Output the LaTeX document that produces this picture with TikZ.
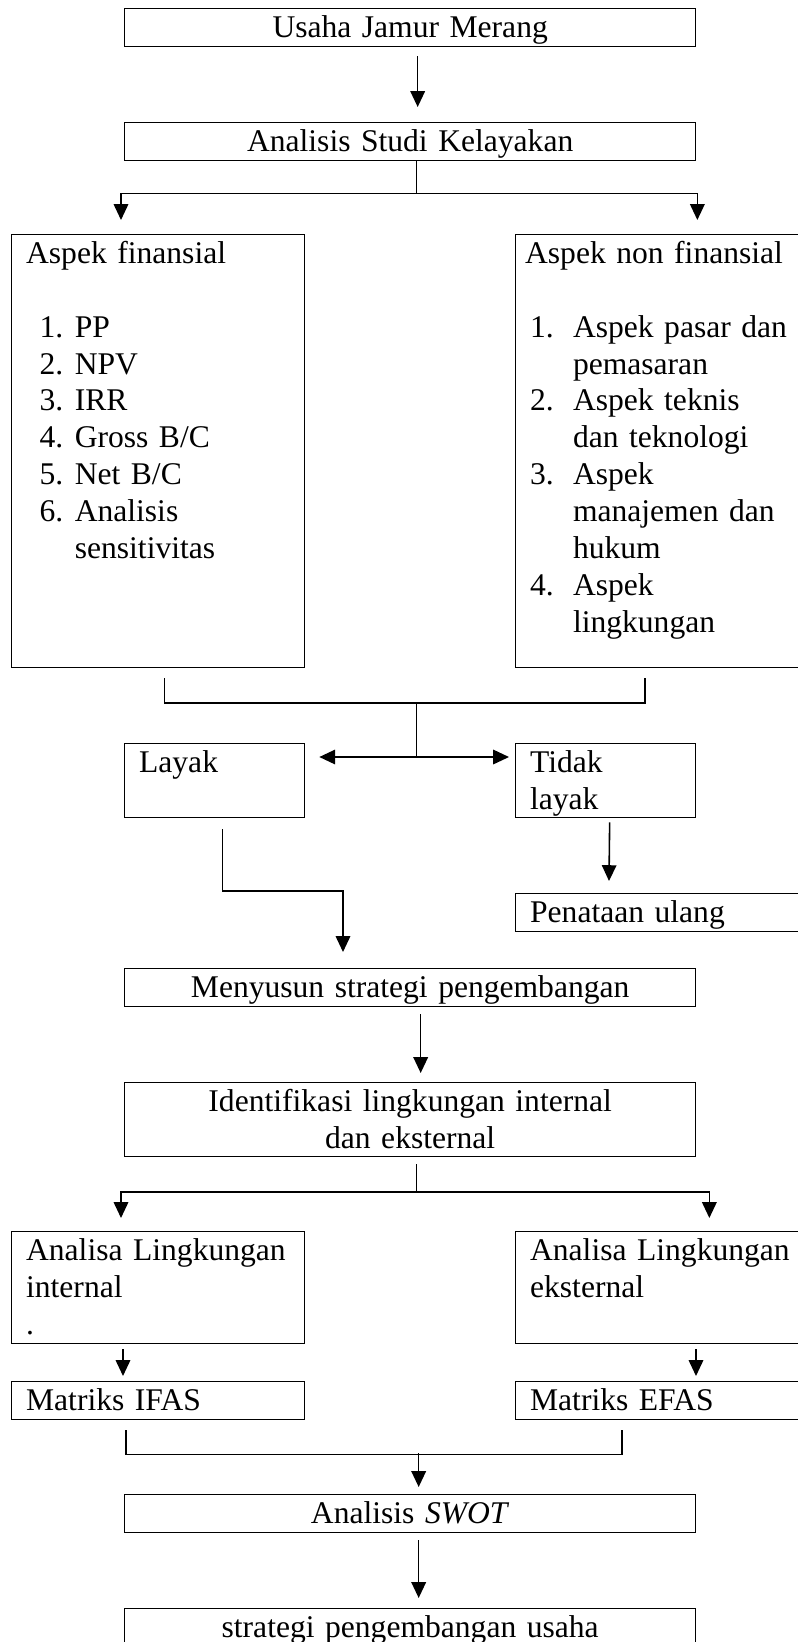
\documentclass[tikz,border=0pt]{standalone}
\usepackage{fontspec}
\setmainfont{Liberation Serif}
\usetikzlibrary{arrows.meta,%
	calc}

\newcommand{\finitem}[2]{\hspace*{5.1pt}\makebox[13.4pt][l]{#1}#2}
\newcommand{\nonfinitem}[2]{\makebox[16.3pt][l]{#1}#2}

\begin{document}
\begin{tikzpicture}[x=0.38pt,y=-0.38pt,line width=0.5pt,font=\fontsize{12}{14}\selectfont,
	main_node/.style={draw,anchor=north west,inner sep=0pt,align=center,text width=217pt,text height=11pt,text depth=3.44pt},
	side_node/.style={draw,anchor=north west,inner xsep=5.5pt,inner ysep=0pt,align=left,text height=11pt,text depth=3.44pt},
	flow_line/.style={line width=0.6pt},
	flow_arrow/.style={line width=0.6pt,-{Triangle[length=6pt,width=5.5pt]}},
	both_arrow/.style={line width=0.6pt,{Triangle[length=6pt,width=5.5pt]}-{Triangle[length=6pt,width=5.5pt]}}]

		\useasboundingbox (0,0) rectangle (798,1642);
		\clip (0,0) rectangle (798,1642);

		\node[main_node] (1) at (124,8) {Usaha Jamur Merang};
		\node[main_node] (2) at (124,122) {Analisis Studi Kelayakan};
		\node[side_node,text width=100.3pt,text depth=153.5pt] (3) at (11,234) {Aspek finansial\\[14pt]
			\finitem{1.}{PP}\\
			\finitem{2.}{NPV}\\
			\finitem{3.}{IRR}\\
			\finitem{4.}{Gross B/C}\\
			\finitem{5.}{Net B/C}\\
			\finitem{6.}{Analisis}\\
			\finitem{}{sensitivitas}};
		\node[side_node,text width=104.9pt,text depth=153.5pt] (4) at (515,234) {\hspace*{-1.9pt}Aspek non finansial\\[14pt]
			\nonfinitem{1.}{Aspek pasar dan}\\
			\nonfinitem{}{pemasaran}\\
			\nonfinitem{2.}{Aspek teknis}\\
			\nonfinitem{}{dan teknologi}\\
			\nonfinitem{3.}{Aspek}\\
			\nonfinitem{}{manajemen dan}\\
			\nonfinitem{}{hukum}\\
			\nonfinitem{4.}{Aspek}\\
			\nonfinitem{}{lingkungan}};
		\node[side_node,text width=57.4pt,text depth=17.1pt] (5) at (124,743) {Layak};
		\node[side_node,text width=57.4pt,text depth=17.1pt] (6) at (515,743) {Tidak\\layak};
		\node[side_node,text width=104.9pt] (7) at (515,893) {Penataan ulang};
		\node[main_node] (8) at (124,968) {Menyusun strategi pengembangan};
		\node[main_node,text depth=17.1pt] (9) at (124,1082) {Identifikasi lingkungan internal\\dan eksternal};
		\node[side_node,text width=100.3pt,text depth=31.6pt] (10) at (11,1231) {Analisa Lingkungan\\internal\\.};
		\node[side_node,text width=104.9pt,text depth=31.6pt] (11) at (515,1231) {Analisa Lingkungan\\eksternal};
		\node[side_node,text width=100.3pt] (12) at (11,1381) {Matriks IFAS};
		\node[side_node,text width=104.9pt] (13) at (515,1381) {Matriks EFAS};
		\node[main_node] (14) at (124,1494) {Analisis \textit{SWOT}};
		\node[main_node] (15) at (124,1608) {strategi pengembangan usaha};

		\draw[flow_arrow] ($(1.south)+(7.5,9)$) -- ($(2.north)+(7.5,-15)$);
		\draw[flow_line] ($(2.south)+(6.5,0)$) -- ++(0,32) coordinate (a);
		\draw[flow_arrow] (a) -| ($(3.north -| 2.west)+(-3,-14)$);
		\draw[flow_arrow] (a) -| ($(4.north -| 2.east)+(1,-14)$);
		\draw[flow_line] ($(3.south)+(6.5,10)$) -- ++(0,25) -| ($(4.south west)+(130,10)$);
		\draw[flow_line] ($(3.south -| a)+(0,35)$) -- ($(5.north -| a)+(0,14)$);
		\draw[both_arrow] ($(5.north east)+(14,14)$) -- ($(6.north west)+(-6,14)$);
		\draw[flow_arrow] ($(5.south)+(8,11)$) -- ++(0,62) -| ($(8.north west)+(219,-16)$);
		\draw[flow_arrow] ($(6.south)+(4,4)$) -- ($(7.north west)+(94,-12)$);
		\draw[flow_arrow] ($(8.south)+(10.5,7)$) -- ($(9.north)+(10.5,-9)$);
		\draw[flow_line] ($(9.south)+(6.5,7)$) -- ++(0,28) coordinate (c);
		\draw[flow_arrow] (c) -| ($(10.north -| 9.west)+(-3,-13)$);
		\draw[flow_arrow] (c) -| ($(11.north -| 9.east)+(13,-13)$);
		\draw[flow_arrow] ($(10.south west)+(112,5)$) -- ($(12.north west)+(112,-5)$);
		\draw[flow_arrow] ($(11.south west)+(181,5)$) -- ($(13.north west)+(181,-5)$);
		\draw[flow_line] ($(12.south west)+(115,10)$) -- ++(0,24) -| ($(13.south west)+(107,10)$);
		\draw[flow_arrow] ($(14.north)+(8.5,-41)$) -- ($(14.north)+(8.5,-7)$);
		\draw[flow_arrow] ($(14.south)+(8.5,7)$) -- ($(15.north)+(8.5,-10)$);
		\end{tikzpicture}
\end{document}
